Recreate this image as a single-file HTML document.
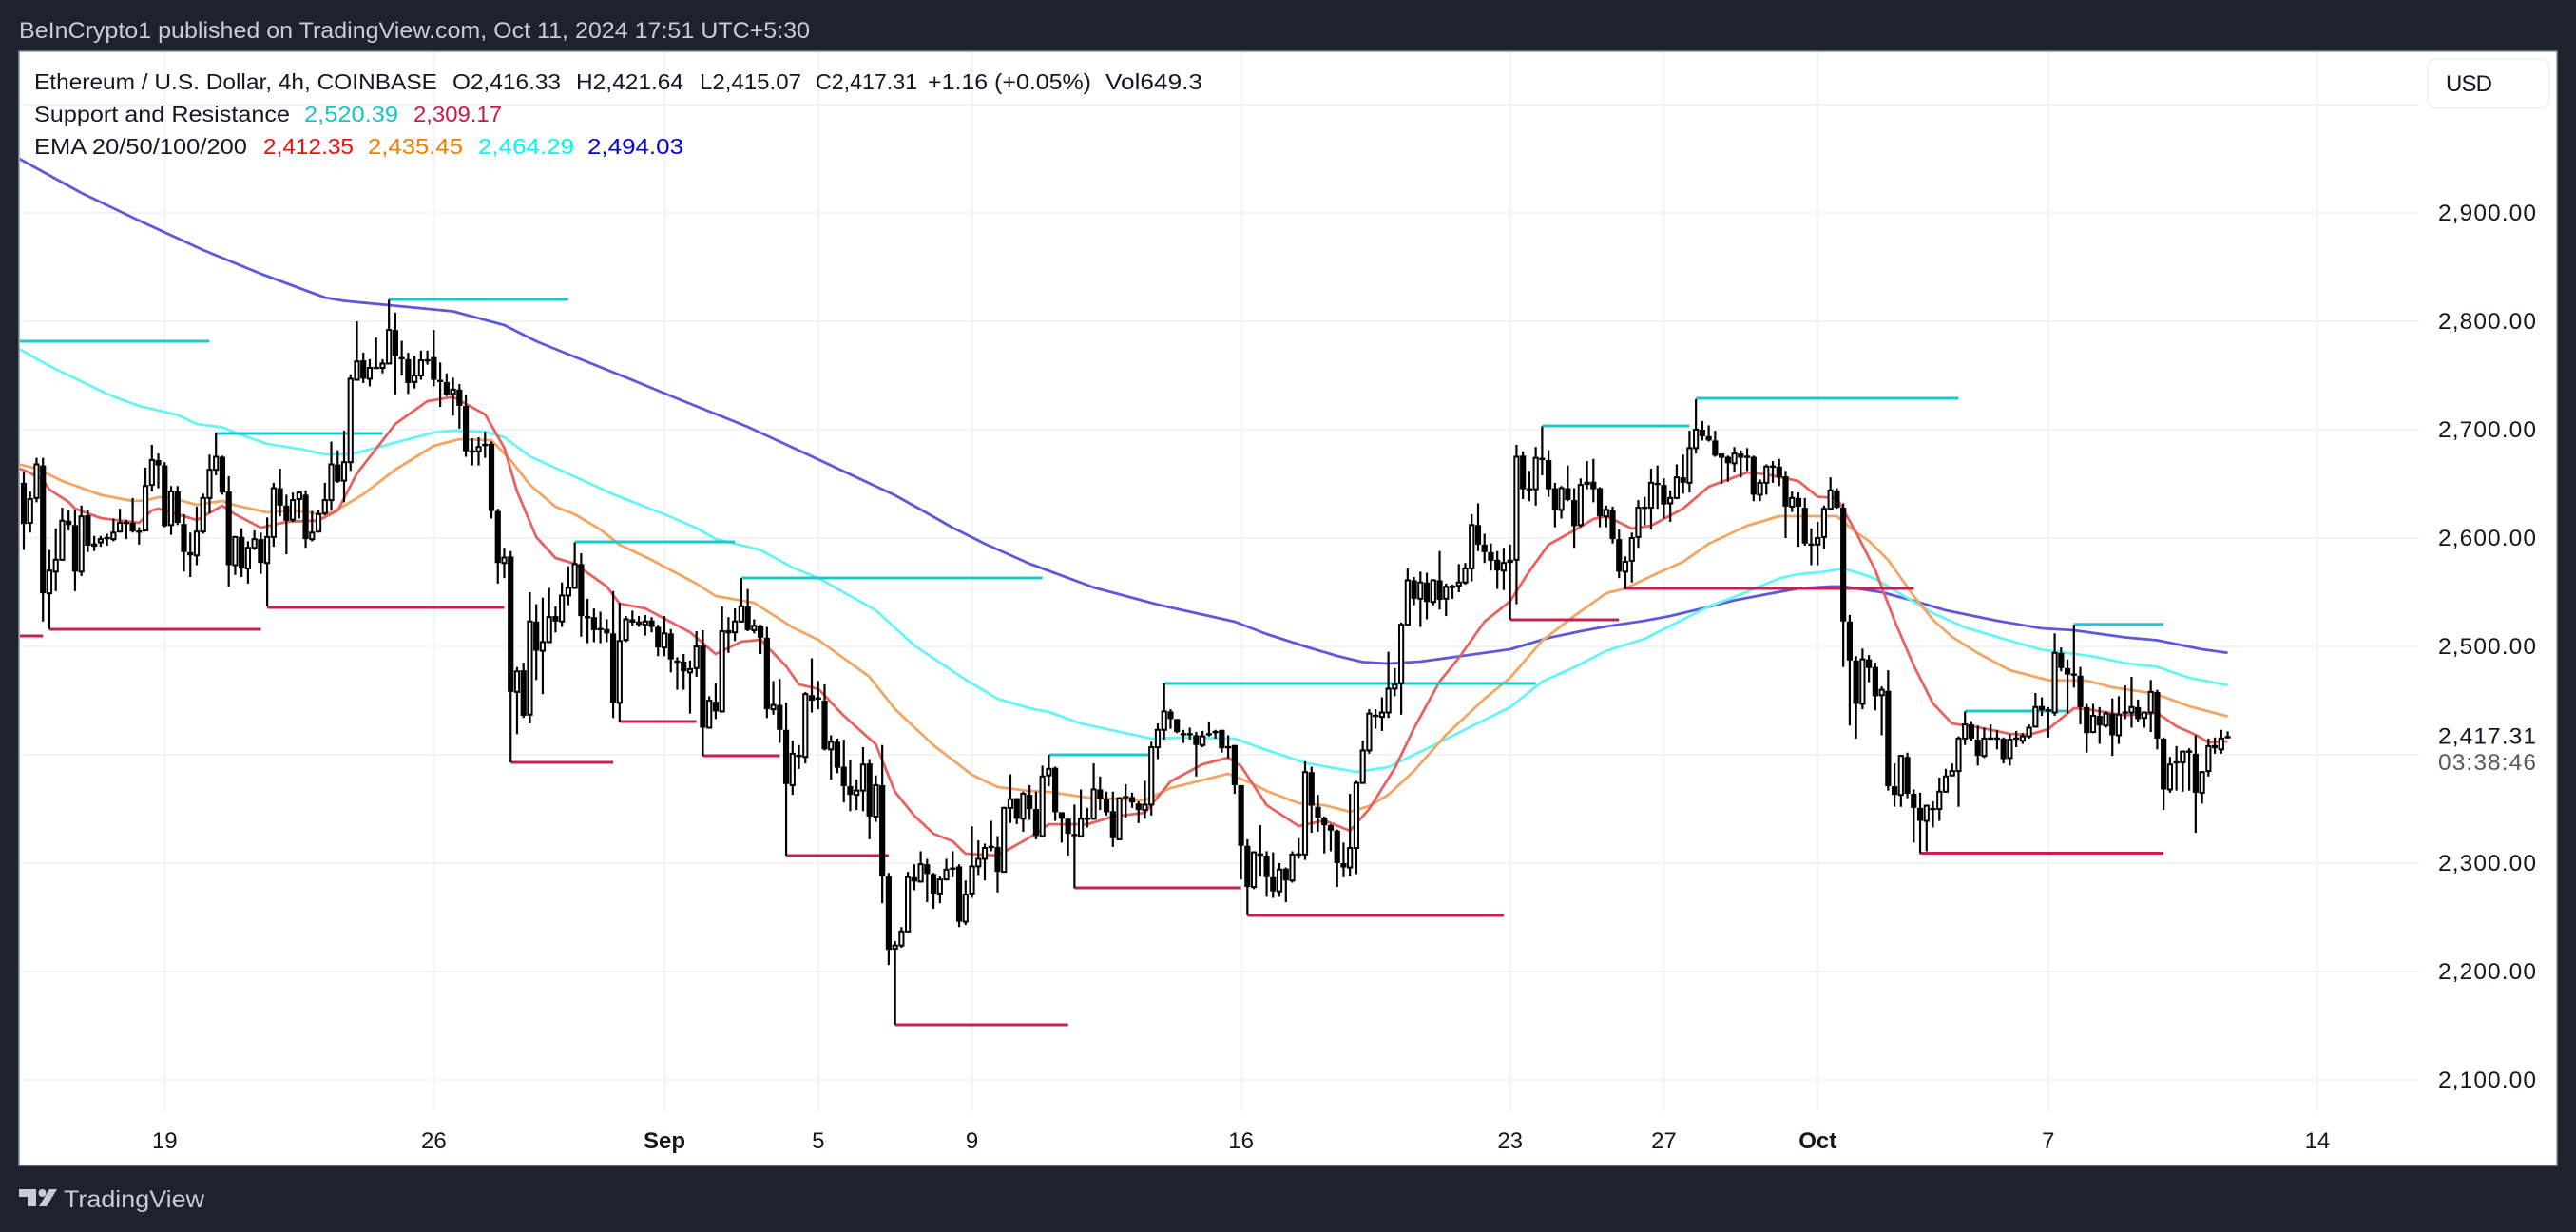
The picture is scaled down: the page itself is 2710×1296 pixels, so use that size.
<!DOCTYPE html>
<html lang="en">
<head>
<meta charset="utf-8">
<title>ETH/USD 4h chart</title>
<style>
html,body{margin:0;padding:0;background:#1e222d;width:2710px;height:1296px;overflow:hidden}
svg{display:block;font-family:"Liberation Sans",sans-serif}
</style>
</head>
<body>
<svg id="chart" xmlns="http://www.w3.org/2000/svg" width="2710" height="1296" viewBox="0 0 2710 1296">
  <defs><clipPath id="plot-clip"><rect x="21" y="55" width="2524" height="1115"/></clipPath></defs>
  <rect x="0" y="0" width="2710" height="1296" fill="#1e222d"/>
  <text x="20" y="40" font-size="24" fill="#c8ccd6" textLength="832" lengthAdjust="spacingAndGlyphs">BeInCrypto1 published on TradingView.com, Oct 11, 2024 17:51 UTC+5:30</text>
  <rect x="20" y="54" width="2670" height="1172" fill="#ffffff" stroke="#8a8f99" stroke-width="1.5"/>
  <g id="grid"></g>
  <g clip-path="url(#plot-clip)">
    <g id="emas"></g>
    <g id="levels"></g>
    <g id="candles"></g>
  </g>
  <g id="price-axis"></g>
  <g id="time-axis"></g>

  <g font-size="23" fill="#131722">
    <text x="36" y="94" textLength="424" lengthAdjust="spacingAndGlyphs">Ethereum / U.S. Dollar, 4h, COINBASE</text>
    <text x="476" y="94" textLength="114" lengthAdjust="spacingAndGlyphs">O2,416.33</text>
    <text x="606" y="94" textLength="113" lengthAdjust="spacingAndGlyphs">H2,421.64</text>
    <text x="736" y="94" textLength="107" lengthAdjust="spacingAndGlyphs">L2,415.07</text>
    <text x="858" y="94" textLength="107" lengthAdjust="spacingAndGlyphs">C2,417.31</text>
    <text x="976" y="94" textLength="172" lengthAdjust="spacingAndGlyphs">+1.16 (+0.05%)</text>
    <text x="1163" y="94" textLength="102" lengthAdjust="spacingAndGlyphs">Vol649.3</text>
    <text x="36" y="128" textLength="269" lengthAdjust="spacingAndGlyphs">Support and Resistance</text>
    <text x="320" y="128" fill="#14c4c8" textLength="99" lengthAdjust="spacingAndGlyphs">2,520.39</text>
    <text x="435" y="128" fill="#c9184a" textLength="93" lengthAdjust="spacingAndGlyphs">2,309.17</text>
    <text x="36" y="162" textLength="224" lengthAdjust="spacingAndGlyphs">EMA 20/50/100/200</text>
    <text x="277" y="162" fill="#f20d0d" textLength="95" lengthAdjust="spacingAndGlyphs">2,412.35</text>
    <text x="387" y="162" fill="#f57c00" textLength="100" lengthAdjust="spacingAndGlyphs">2,435.45</text>
    <text x="503" y="162" fill="#00f6f6" textLength="101" lengthAdjust="spacingAndGlyphs">2,464.29</text>
    <text x="618" y="162" fill="#0000e0" textLength="101" lengthAdjust="spacingAndGlyphs">2,494.03</text>
  </g>

  <g>
    <rect x="2554" y="62" width="128" height="52" rx="9" fill="#ffffff" stroke="#eceef1" stroke-width="1.5"/>
    <text x="2573" y="96" font-size="24" fill="#131722" textLength="49" lengthAdjust="spacing">USD</text>
  </g>

  <g>
    <path fill="#c8ccd6" d="M20 1251h18v18h-9v-10h-9zM52 1251h8l-11 18h-8z"/>
    <circle cx="44.5" cy="1255" r="4" fill="#c8ccd6"/>
    <text x="67" y="1270" font-size="25" fill="#c8ccd6" textLength="148" lengthAdjust="spacingAndGlyphs">TradingView</text>
  </g>
</svg>

<script>
const opens = [
2651,2614,2637,2667,2549,2569,2580,2616,2612,2569,
2621,2595,2596,2600,2599,2606,2615,2614,2607,2607,
2649,2672,2667,2612,2643,2613,2587,2584,2606,2637,
2663,2675,2643,2575,2601,2572,2591,2599,2577,2601,
2646,2630,2617,2636,2640,2599,2606,2623,2635,2668,
2653,2670,2746,2764,2747,2758,2757,2761,2792,2767,
2765,2744,2750,2765,2767,2746,2744,2733,2737,2722,
2681,2680,2687,2687,2625,2577,2583,2458,2478,2437,
2523,2496,2504,2528,2523,2547,2554,2576,2528,2527,
2517,2516,2512,2448,2506,2525,2523,2520,2524,2518,
2499,2512,2487,2486,2476,2480,2501,2425,2449,2440,
2515,2513,2523,2537,2515,2519,2508,2442,2446,2423,
2372,2400,2398,2455,2453,2450,2405,2412,2389,2371,
2363,2367,2392,2343,2372,2288,2221,2224,2237,2287,
2283,2299,2290,2272,2285,2295,2297,2246,2272,2297,
2304,2314,2315,2292,2351,2360,2341,2363,2350,2325,
2381,2388,2347,2341,2327,2325,2341,2341,2368,2359,
2348,2322,2361,2361,2355,2349,2354,2407,2423,2440,
2433,2420,2419,2418,2409,2420,2422,2423,2408,2409,
2372,2316,2278,2308,2307,2287,2274,2295,2284,2308,
2308,2384,2352,2342,2335,2330,2300,2296,2314,2374,
2404,2435,2435,2439,2461,2466,2520,2561,2544,2559,
2541,2561,2544,2555,2556,2559,2572,2612,2594,2587,
2580,2570,2580,2580,2676,2646,2645,2673,2672,2646,
2626,2646,2635,2612,2652,2652,2646,2620,2626,2599,
2569,2579,2601,2628,2628,2651,2649,2632,2637,2656,
2651,2683,2700,2694,2690,2678,2675,2669,2678,2675,
2675,2640,2651,2666,2666,2657,2629,2637,2628,2594,
2594,2601,2627,2644,2628,2523,2487,2447,2488,2481,
2455,2459,2371,2363,2398,2364,2351,2339,2350,2350,
2366,2381,2385,2415,2428,2414,2399,2415,2415,2415,
2397,2415,2413,2417,2426,2445,2441,2439,2494,2480,
2474,2473,2444,2421,2436,2427,2438,2418,2439,2439,
2444,2434,2439,2458,2415,2368,2392,2393,2403,2401,
2365,2385,2409,2405,2416.33];
const highs = [
2661,2643,2674,2674,2589,2609,2628,2626,2626,2630,
2626,2602,2602,2604,2618,2627,2617,2637,2610,2665,
2686,2678,2670,2648,2648,2622,2605,2629,2641,2677,
2697,2676,2657,2602,2609,2597,2607,2605,2619,2651,
2664,2640,2642,2643,2644,2625,2626,2651,2689,2681,
2699,2751,2800,2771,2765,2785,2765,2820,2808,2782,
2771,2768,2773,2773,2792,2762,2752,2748,2742,2732,
2692,2693,2698,2689,2627,2591,2588,2481,2485,2550,
2539,2545,2554,2537,2559,2574,2596,2586,2544,2535,
2532,2525,2551,2540,2528,2533,2528,2529,2527,2520,
2528,2516,2490,2493,2487,2514,2515,2454,2466,2537,
2527,2535,2563,2553,2525,2520,2518,2468,2470,2448,
2413,2409,2458,2489,2468,2465,2418,2415,2414,2395,
2377,2407,2396,2381,2409,2291,2228,2241,2292,2299,
2311,2304,2291,2288,2304,2311,2299,2284,2334,2321,
2318,2339,2325,2352,2382,2360,2366,2372,2366,2390,
2400,2389,2347,2341,2354,2368,2351,2392,2380,2366,
2366,2361,2373,2365,2357,2376,2412,2429,2466,2442,
2433,2423,2425,2421,2422,2430,2423,2423,2418,2409,
2372,2322,2311,2335,2311,2310,2300,2296,2311,2323,
2394,2389,2363,2343,2336,2331,2319,2364,2376,2413,
2442,2442,2453,2495,2480,2522,2572,2564,2569,2568,
2562,2588,2558,2557,2576,2577,2622,2632,2604,2595,
2588,2591,2594,2686,2680,2662,2684,2703,2681,2651,
2648,2667,2646,2655,2671,2673,2647,2630,2629,2608,
2583,2605,2635,2638,2664,2667,2655,2644,2668,2677,
2699,2728,2708,2704,2699,2678,2676,2684,2681,2683,
2676,2654,2668,2671,2673,2662,2643,2642,2637,2609,
2615,2630,2656,2646,2632,2529,2491,2498,2492,2485,
2463,2478,2392,2400,2402,2368,2365,2354,2357,2379,
2387,2392,2417,2440,2431,2427,2425,2428,2423,2416,
2419,2422,2420,2428,2457,2453,2444,2512,2499,2488,
2520,2481,2447,2447,2444,2440,2452,2454,2464,2472,
2451,2440,2469,2460,2416,2398,2408,2404,2406,2418,
2385,2415,2416,2423,2421.64];
const lows = [
2589,2605,2633,2523,2516,2551,2579,2607,2551,2565,
2587,2588,2592,2593,2597,2605,2599,2605,2594,2606,
2643,2646,2610,2603,2612,2569,2564,2575,2604,2623,
2658,2640,2555,2566,2564,2558,2589,2567,2537,2592,
2620,2585,2615,2618,2591,2597,2605,2621,2626,2651,
2633,2662,2746,2743,2740,2756,2752,2761,2732,2750,
2733,2738,2746,2760,2740,2721,2731,2713,2701,2675,
2667,2667,2674,2618,2558,2563,2393,2419,2434,2429,
2469,2456,2503,2513,2518,2538,2553,2509,2503,2504,
2503,2504,2434,2430,2504,2519,2518,2510,2513,2491,
2491,2476,2460,2460,2438,2472,2399,2425,2433,2439,
2494,2505,2522,2514,2512,2493,2434,2437,2411,2307,
2363,2387,2392,2439,2442,2404,2377,2383,2356,2348,
2349,2348,2322,2338,2263,2206,2151,2222,2237,2275,
2282,2264,2258,2263,2284,2287,2241,2243,2268,2289,
2284,2311,2273,2292,2337,2336,2329,2340,2322,2324,
2371,2339,2319,2307,2277,2324,2333,2340,2349,2344,
2315,2322,2342,2351,2337,2341,2344,2396,2414,2424,
2420,2411,2414,2380,2407,2417,2415,2402,2397,2364,
2285,2252,2276,2288,2269,2268,2269,2264,2282,2304,
2303,2328,2329,2309,2311,2278,2287,2288,2290,2374,
2401,2424,2422,2434,2454,2437,2519,2538,2518,2525,
2538,2534,2528,2544,2550,2557,2560,2588,2577,2570,
2553,2552,2525,2539,2636,2634,2630,2658,2638,2610,
2618,2634,2591,2610,2645,2633,2610,2610,2595,2563,
2553,2559,2591,2612,2608,2627,2618,2615,2636,2641,
2642,2678,2690,2689,2675,2650,2652,2661,2656,2662,
2634,2634,2640,2651,2648,2600,2624,2592,2593,2575,
2575,2590,2626,2627,2481,2427,2415,2442,2467,2441,
2418,2367,2352,2352,2360,2319,2309,2311,2333,2339,
2365,2380,2352,2409,2413,2390,2397,2414,2405,2392,
2390,2407,2410,2415,2425,2436,2416,2436,2477,2438,
2462,2428,2402,2420,2410,2425,2399,2410,2433,2425,
2430,2425,2421,2405,2349,2365,2367,2366,2367,2328,
2355,2380,2401,2401,2415.07];
const closes = [
2613,2636,2668,2549,2570,2580,2616,2612,2569,2620,
2593,2592,2599,2601,2605,2614,2614,2606,2606,2648,
2672,2667,2611,2643,2614,2587,2584,2606,2637,2663,
2675,2642,2575,2601,2572,2591,2599,2577,2601,2646,
2630,2616,2635,2642,2599,2605,2622,2635,2668,2652,
2670,2747,2763,2747,2757,2757,2761,2792,2768,2765,
2743,2750,2764,2763,2746,2744,2732,2737,2722,2680,
2680,2684,2685,2625,2577,2582,2458,2477,2436,2523,
2496,2504,2527,2523,2547,2554,2576,2528,2527,2515,
2516,2512,2448,2505,2525,2522,2520,2523,2518,2499,
2512,2488,2486,2477,2479,2500,2425,2450,2440,2514,
2512,2523,2537,2515,2519,2508,2442,2446,2423,2373,
2401,2398,2456,2450,2451,2405,2412,2388,2371,2363,
2367,2391,2343,2372,2288,2220,2224,2237,2287,2283,
2299,2290,2272,2285,2294,2296,2246,2271,2297,2304,
2314,2316,2292,2351,2359,2341,2364,2350,2325,2380,
2387,2347,2341,2327,2325,2341,2342,2368,2359,2347,
2323,2360,2362,2356,2349,2354,2407,2423,2440,2433,
2421,2418,2420,2409,2417,2418,2420,2406,2407,2372,
2316,2278,2310,2309,2287,2274,2294,2284,2308,2309,
2384,2353,2342,2335,2330,2300,2296,2314,2374,2404,
2438,2437,2439,2461,2465,2520,2561,2544,2559,2541,
2561,2543,2555,2556,2559,2572,2612,2594,2587,2579,
2570,2577,2577,2675,2645,2645,2674,2674,2645,2626,
2646,2635,2611,2649,2649,2645,2620,2626,2599,2569,
2578,2600,2628,2629,2651,2649,2631,2637,2656,2651,
2683,2700,2694,2690,2676,2674,2669,2678,2674,2676,
2640,2651,2666,2667,2656,2629,2637,2629,2595,2595,
2600,2627,2644,2628,2523,2487,2447,2488,2480,2454,
2460,2371,2363,2399,2364,2351,2339,2353,2351,2366,
2380,2385,2415,2428,2415,2399,2415,2416,2416,2396,
2414,2416,2417,2425,2444,2441,2442,2494,2480,2474,
2475,2444,2420,2436,2427,2438,2418,2437,2440,2444,
2433,2439,2458,2415,2368,2391,2394,2403,2404,2365,
2384,2408,2406,2415,2417.31];

const ema200Bars = [-1,9,18,28,37,47,50,57,67,75,80,84,94,103,113,122,136,140,145,150,157,167,177,189,194,200,205,209,213,218,224,232,238,243,247,253,257,262,267,272,277,282,284,290,295,300,308,315,320,328,333,340,344];
const ema200 = [2951,2918.4,2893,2865.8,2843.9,2821.9,2818.9,2814.9,2809.2,2796.5,2781.6,2771.9,2748.2,2726.3,2702.6,2678.1,2639.5,2626.3,2609.6,2594.7,2576.3,2554.4,2538.6,2522.8,2511.4,2500,2491.2,2485.5,2484.2,2486,2490.8,2497.4,2507.9,2514,2518.4,2523.7,2528.1,2535.1,2542.5,2548.2,2553.5,2555.3,2555.3,2550,2542.1,2533.3,2523.7,2516.7,2514.9,2508.3,2505.7,2497.4,2494.03];

const ema100Bars = [-1,4,10,13,18,24,27,31,33,38,43,47,51,55,60,64,67,72,75,79,92,100,105,108,115,120,124,133,139,147,152,157,160,165,176,181,189,194,200,208,213,217,221,226,232,237,242,247,253,258,263,267,274,277,281,284,287,289,293,298,303,310,315,323,328,333,338,344];
const ema100 = [2775.4,2758.8,2741.7,2732.9,2721.9,2713.6,2705.3,2702.2,2697.4,2686.8,2682.4,2677.2,2677.2,2683.3,2691.2,2697.4,2699.1,2698.2,2693,2675.4,2640.4,2621.9,2609.2,2599.1,2589,2572.8,2563.2,2533.3,2500.9,2469.3,2451.7,2443,2439.5,2428.9,2414.9,2415.8,2414.9,2404.4,2392.5,2384.2,2388.6,2400,2411.4,2426.3,2443.9,2467.5,2480.7,2496,2507,2521.9,2536.8,2545.6,2562.7,2566.7,2568.9,2571.9,2566.7,2562.3,2548.2,2530.7,2517.5,2505.3,2496.9,2490.8,2484.6,2481.1,2471,2464.29];

const ema50Bars = [-1,2,3,6,12,17,19,21,23,27,31,33,38,42,47,49,53,58,64,68,73,76,79,83,86,90,93,98,105,108,114,120,124,132,136,142,148,152,157,160,166,175,179,188,192,194,199,203,207,210,213,217,222,228,232,237,242,247,250,255,259,263,269,274,279,283,286,288,291,295,298,301,305,310,316,322,326,332,334,338,344];
const ema50 = [2668.4,2664,2661.4,2652.6,2639.9,2634.2,2634.6,2637.7,2636.8,2630.7,2634.2,2630.3,2623.7,2625.4,2621.9,2626.3,2640.4,2663.2,2685.1,2691.2,2690.3,2671.9,2649.1,2628.9,2621.9,2607.9,2593.9,2579.8,2557.9,2546.5,2540.3,2517.5,2506.1,2471.9,2442.1,2408.8,2381.6,2370.2,2366.7,2365.8,2360.5,2357.9,2369.3,2382.5,2372.8,2366.7,2355.3,2353.5,2347.4,2352.6,2363.2,2385.1,2418.4,2451.7,2471,2505.3,2528.1,2549.1,2553.5,2567.5,2578.1,2594.7,2611.4,2620.2,2620.2,2620.2,2605.3,2597.4,2579.8,2546.5,2524.6,2508.8,2493.9,2478.1,2468.9,2468.4,2462.3,2457,2453.5,2444.7,2435.45];

const ema20Bars = [-1,1,3,4,7,8,12,18,20,21,24,27,31,33,37,41,46,49,52,58,63,67,72,75,77,80,83,86,91,93,97,104,108,112,115,119,121,124,128,133,136,139,142,145,147,152,157,160,166,170,175,179,184,188,190,194,199,203,207,210,214,217,221,224,228,232,235,238,242,245,247,251,254,259,263,269,272,277,280,283,286,289,292,295,298,301,305,310,313,316,320,322,328,333,336,339,341,344];
const ema20 = [2664.9,2660.1,2653.5,2644.7,2633.3,2627.2,2618.4,2614,2625.4,2627.2,2621.9,2616.7,2629.8,2621.9,2609.6,2614.9,2616.2,2625.4,2659.6,2705.3,2726.3,2730.3,2714,2683.3,2643,2600.9,2581.6,2576.3,2555.3,2539.5,2535.1,2513.1,2493,2504.4,2506.1,2481.6,2464.9,2460.9,2436,2409.6,2365.8,2343.8,2327.2,2320.2,2308.8,2307,2323.7,2335.9,2335.9,2343,2346.5,2375.4,2391.2,2397.4,2389.5,2353.5,2334.2,2339.5,2329.8,2350,2387.7,2424.6,2467.5,2489.5,2522.8,2541.7,2569.3,2593.9,2607,2617.5,2620.2,2608.8,2611.4,2627.2,2647.4,2660.5,2658.8,2652.6,2638.2,2636.8,2605.3,2570.2,2523.7,2482.4,2447.4,2428.9,2425.4,2419.3,2418.4,2423.7,2443,2442.1,2436.4,2438.6,2426.3,2418.4,2411.4,2412.35];

const resistanceStart = [-1,30,57,86,112,160,178,237,261,303,320];
const resistanceEnd = [29,56,85,111,159,176,236,260,302,319,334];
const resistanceLevel = [2781.6,2696.5,2820.2,2596.5,2563.2,2400,2465.8,2703.5,2728.9,2440.4,2520.39];

const supportStart = [-1,4,38,76,93,106,119,136,164,191,232,250,296];
const supportEnd = [3,37,75,92,105,118,135,163,190,231,249,295,334];
const supportLevel = [2509.6,2515.8,2536,2393,2430.7,2399.1,2307,2150.9,2277.2,2251.7,2524.6,2553.5,2309.17];

const priceTicks = [2100,2200,2300,2400,2500,2600,2700,2800,2900,3000];
const priceTickLabels = ['2,100.00','2,200.00','2,300.00','','2,500.00','2,600.00','2,700.00','2,800.00','2,900.00',''];
const lastPriceLabel = '2,417.31';
const lastPrice = 2417.31;
const countdownLabel = '03:38:46';

const timeTickBars = [22,64,100,124,148,190,232,256,280,316,358];
const timeTickLabels = ['19','26','Sep','5','9','16','23','27','Oct','7','14'];
const timeTickBold = ['Sep','Oct'];

const NS = 'http://www.w3.org/2000/svg';
function xOf(bar){ return 25 + 6.74 * bar; }
function yOf(price){ return 224 + (2900 - price) * 1.14; }
function mk(tag, attrs, parent){
  const el = document.createElementNS(NS, tag);
  for (const k in attrs) el.setAttribute(k, attrs[k]);
  parent.appendChild(el);
  return el;
}

const gridG = document.getElementById('grid');
priceTicks.forEach(function(p){
  const el = mk('line', {x1:21, x2:2545, y1:yOf(p), y2:yOf(p), stroke:'#f2f3f5', 'stroke-width':2}, gridG);
  
  
});
timeTickBars.forEach(function(b){
  const el = mk('line', {x1:xOf(b), x2:xOf(b), y1:55, y2:1169, stroke:'#f2f3f5', 'stroke-width':2}, gridG);
  
  
});

function drawEma(bars, values, color, name){
  const pts = bars.map(function(b, k){ return xOf(b).toFixed(1) + ',' + yOf(values[k]).toFixed(1); }).join(' ');
  const el = mk('polyline', {points:pts, fill:'none', stroke:color, 'stroke-width':2.8, 'stroke-linejoin':'round'}, document.getElementById('emas'));
  
  
}
drawEma(ema200Bars, ema200, '#5d58dc', 'ema-200-line');
drawEma(ema100Bars, ema100, '#66f4f6', 'ema-100-line');
drawEma(ema50Bars, ema50, '#f4a561', 'ema-50-line');
drawEma(ema20Bars, ema20, '#e8625f', 'ema-20-line');

const levelsG = document.getElementById('levels');
resistanceLevel.forEach(function(v, k){
  const el = mk('line', {x1:xOf(resistanceStart[k]), x2:xOf(resistanceEnd[k]), y1:yOf(v), y2:yOf(v), stroke:'#1cc8ca', 'stroke-width':3}, levelsG);
  
  
});
supportLevel.forEach(function(v, k){
  const el = mk('line', {x1:xOf(supportStart[k]), x2:xOf(supportEnd[k]), y1:yOf(v), y2:yOf(v), stroke:'#c4214f', 'stroke-width':3}, levelsG);
  
  
});

const candlesG = document.getElementById('candles');
opens.forEach(function(o, i){
  const c = closes[i];
  const cx = xOf(i);
  const wick = mk('rect', {x:cx - 1.1, width:2.2, y:yOf(highs[i]), height:Math.max(1, yOf(lows[i]) - yOf(highs[i])), fill:'#000000'}, candlesG);
  
  
  const top = yOf(Math.max(o, c));
  const h = Math.max(2.4, yOf(Math.min(o, c)) - top);
  const up = c >= o;
  let body;
  if (up && h > 3) {
    body = mk('rect', {x:cx - 2.1, width:4.2, y:top, height:h, fill:'#ffffff', stroke:'#000000', 'stroke-width':2}, candlesG);
  } else {
    body = mk('rect', {x:cx - 3.1, width:6.2, y:top, height:h, fill:'#000000'}, candlesG);
  }
  
  
});

const priceG = document.getElementById('price-axis');
priceTicks.forEach(function(p, k){
  if (!priceTickLabels[k]) return;
  const t = mk('text', {x:2565, y:yOf(p) + 8, 'font-size':24.5, fill:'#131722', textLength:103, lengthAdjust:'spacing'}, priceG);
  
  
  t.textContent = priceTickLabels[k];
});
const lastT = mk('text', {x:2565, y:yOf(lastPrice) + 8.2, 'font-size':24.5, fill:'#131722', textLength:103, lengthAdjust:'spacing'}, priceG);


lastT.textContent = lastPriceLabel;
const cdT = mk('text', {x:2565, y:yOf(lastPrice) + 35.7, 'font-size':24.5, fill:'#555a63', textLength:103, lengthAdjust:'spacing'}, priceG);


cdT.textContent = countdownLabel;

const timeG = document.getElementById('time-axis');
timeTickBars.forEach(function(b, k){
  const bold = timeTickBold.indexOf(timeTickLabels[k]) >= 0;
  const t = mk('text', {x:xOf(b), y:1208, 'font-size':24, fill:'#131722', 'text-anchor':'middle', 'font-weight':bold ? 'bold' : 'normal'}, timeG);
  
  
  t.textContent = timeTickLabels[k];
});
</script>
</body>
</html>
